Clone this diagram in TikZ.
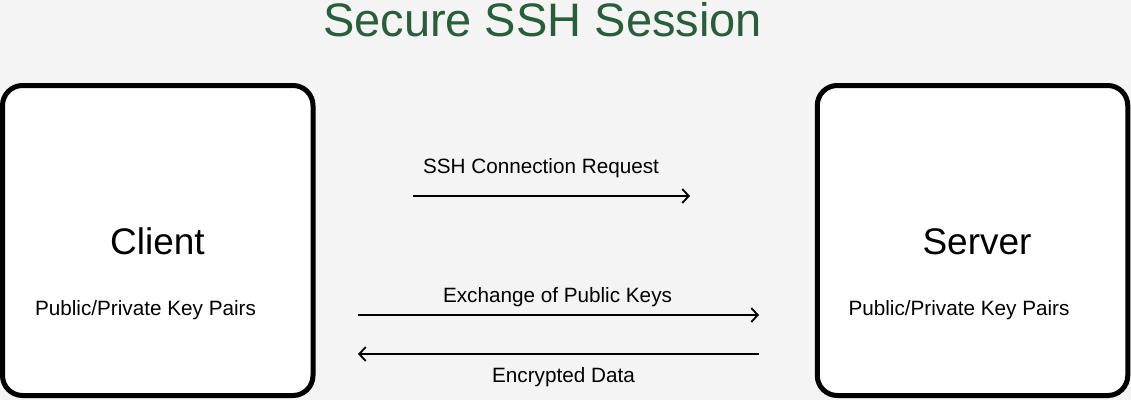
\documentclass[tikz,border=0pt]{standalone}
\usepackage{fontspec}
\setmainfont{Liberation Sans}
\usetikzlibrary{arrows.meta}
\definecolor{bgc}{RGB}{244,244,244}
\definecolor{titlec}{RGB}{42,94,58}
\tikzset{
  hostbox/.style={draw=black, fill=white, line width=5pt, rounded corners=20pt, inner sep=0pt, minimum width=310.5pt, minimum height=310pt},
  msg/.style={line width=1.6pt, -{Straight Barb[length=6.5pt,width=14pt,line width=1.8pt]}},
  lbl/.style={anchor=base, inner sep=0pt, font=\fontsize{20.7}{24}\selectfont},
  big/.style={anchor=base, inner sep=0pt, font=\fontsize{37}{42}\selectfont},
}
\begin{document}
\begin{tikzpicture}[x=1pt,y=-1pt]
\useasboundingbox (0,0) rectangle (1131,400);
\fill[bgc] (0,0) rectangle (1131,400);
\node[anchor=base, inner sep=0pt, text=titlec, font=\fontsize{47}{52}\selectfont] (title) at (542.5,36.5) {Secure SSH Session};
\node[hostbox] (client) at (157.75,240.5) {};
\node[hostbox] (server) at (972.5,240.5) {};
\node[big] (clientname) at (157.5,254) {Client};
\node[lbl] (clientkeys) at (145.5,315) {Public/Private Key Pairs};
\node[big] (servername) at (977,254) {Server};
\node[lbl] (serverkeys) at (959,315) {Public/Private Key Pairs};
\coordinate (r1a) at (413,196);
\coordinate (r1b) at (690,196);
\coordinate (r2a) at (358,315);
\coordinate (r2b) at (759,315);
\coordinate (r3a) at (759,354);
\coordinate (r3b) at (358,354);
\draw[msg] (r1a) -- (r1b);
\draw[msg] (r2a) -- (r2b);
\draw[msg] (r3a) -- (r3b);
\node[lbl] (req) at (541,173) {SSH Connection Request};
\node[lbl] (exch) at (557.5,302) {Exchange of Public Keys};
\node[lbl] (enc) at (563.5,382) {Encrypted Data};
\end{tikzpicture}
\end{document}
